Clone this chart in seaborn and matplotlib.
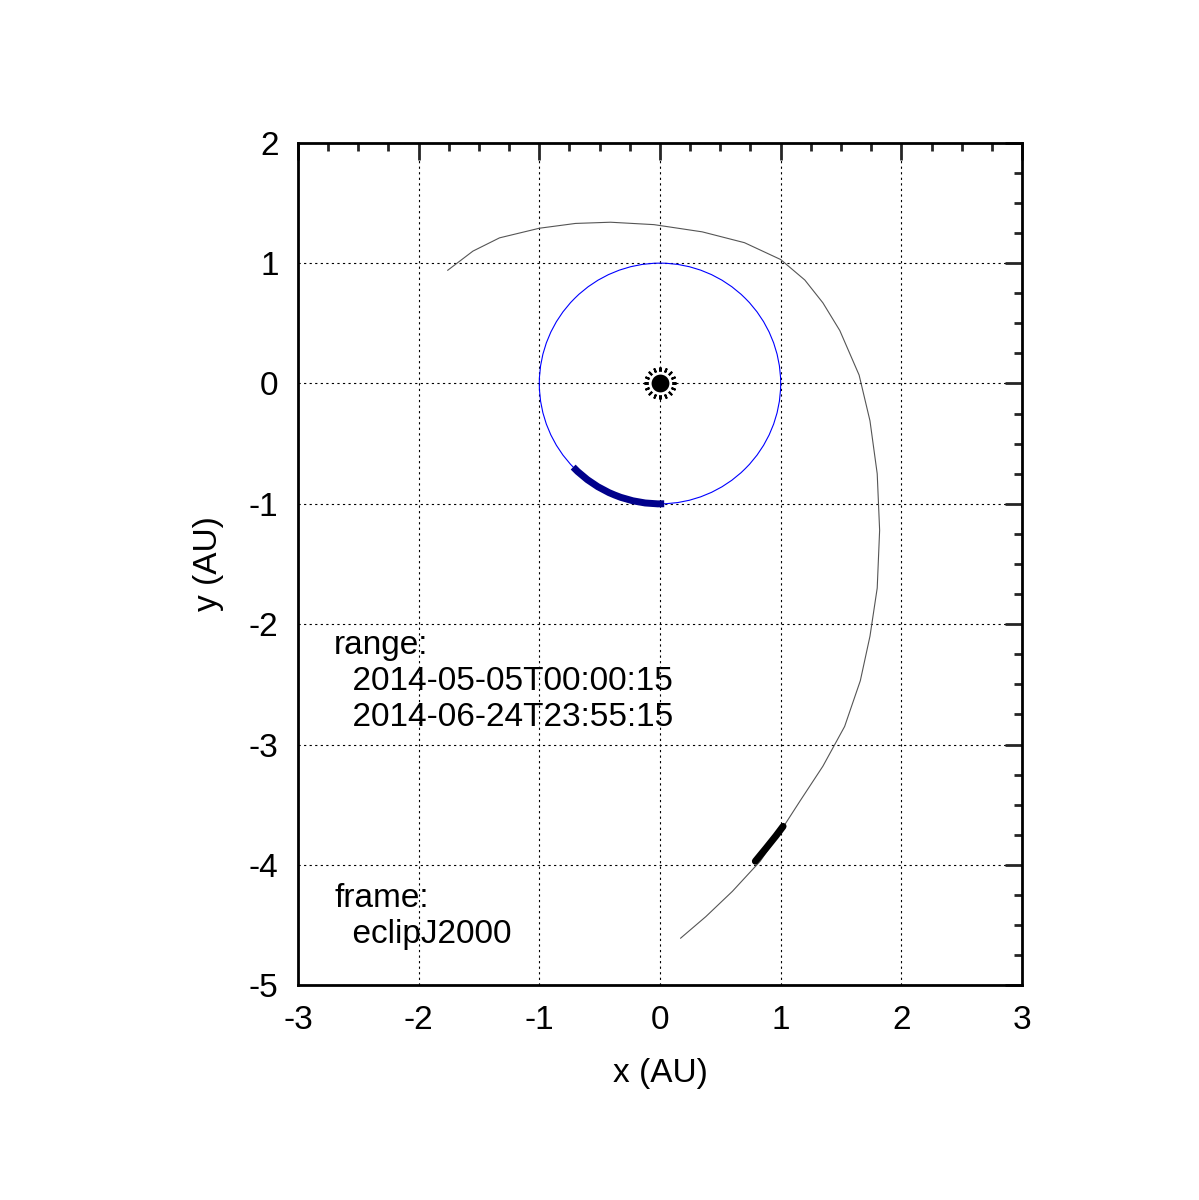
import matplotlib
matplotlib.use("Agg")
import matplotlib.pyplot as plt
import seaborn as sns
import pandas as pd
from matplotlib.patches import Circle, Arc
from matplotlib.ticker import MultipleLocator

traj_x = [-1.76, -1.55, -1.33, -1.0, -0.70, -0.41, -0.05, 0.35, 0.70, 1.00, 1.20, 1.35, 1.49, 1.65, 1.74, 1.80, 1.82, 1.80, 1.74, 1.66, 1.53, 1.35, 1.16, 0.98, 0.83, 0.60, 0.38, 0.17]
traj_y = [0.94, 1.10, 1.21, 1.29, 1.33, 1.34, 1.32, 1.26, 1.17, 1.03, 0.86, 0.67, 0.44, 0.07, -0.31, -0.75, -1.22, -1.70, -2.10, -2.47, -2.85, -3.18, -3.47, -3.75, -3.97, -4.22, -4.43, -4.61]
seg_x = [0.79, 0.88, 0.96, 1.02]
seg_y = [-3.97, -3.86, -3.76, -3.68]
earth_radius = 1.0
arc_start_deg = -136
arc_end_deg = -88
range_text = "range:\n  2014-05-05T00:00:15\n  2014-06-24T23:55:15"
frame_text = "frame:\n  eclipJ2000"

plt.rcParams["font.family"] = "Liberation Sans"
sns.set_style("white", {"font.family": "Liberation Sans"})
fig = plt.figure(figsize=(11.99, 12.0), dpi=100)
ax = fig.add_axes([0.2485, 0.179, 0.6039, 0.702])

traj = pd.DataFrame({"x": traj_x, "y": traj_y})
seg = pd.DataFrame({"x": seg_x, "y": seg_y})
sns.lineplot(data=traj, x="x", y="y", sort=False, estimator=None, color="#555555", lw=0.8, ax=ax)
sns.lineplot(data=seg, x="x", y="y", sort=False, estimator=None, color="black", lw=5, ax=ax)
ax.add_patch(Circle((0, 0), earth_radius, fill=False, ec="blue", lw=0.8))
ax.add_patch(Arc((0, 0), 2 * earth_radius, 2 * earth_radius, theta1=arc_start_deg, theta2=arc_end_deg,
                 color="#00008b", lw=5))
ax.scatter([0], [0], marker=(16, 2, 0), s=500, c="black", lw=1.5, zorder=5)
ax.scatter([0], [0], marker="o", s=220, c="black", edgecolors="white", linewidths=2, zorder=6)

ax.set_xlim(-3, 3)
ax.set_ylim(-5, 2)
ax.xaxis.set_major_locator(MultipleLocator(1))
ax.yaxis.set_major_locator(MultipleLocator(1))
ax.xaxis.set_minor_locator(MultipleLocator(0.25))
ax.yaxis.set_minor_locator(MultipleLocator(0.25))
ax.tick_params(which="both", direction="in", top=True, right=True, labelsize=24, pad=14, labelcolor="black")
ax.tick_params(which="major", length=12, width=2)
ax.tick_params(which="minor", length=6, width=2)
for s in ax.spines.values():
    s.set_linewidth(2)
    s.set_color("black")
ax.grid(True, which="major", ls=(0, (2, 3)), color="black", lw=0.8)
ax.set_xticklabels([f"{v:g}" for v in ax.get_xticks()])
ax.set_yticklabels([f"{v:g}" for v in ax.get_yticks()])
ax.set_xlabel("x (AU)", fontsize=24, labelpad=16, color="black")
ax.set_ylabel("y (AU)", fontsize=24, labelpad=18, color="black")
ax.text(-2.7, -2.05, range_text, fontsize=24, va="top", linespacing=1.2, color="black")
ax.text(-2.7, -4.15, frame_text, fontsize=24, va="top", linespacing=1.2, color="black")
fig.savefig("out.png", dpi=100)
